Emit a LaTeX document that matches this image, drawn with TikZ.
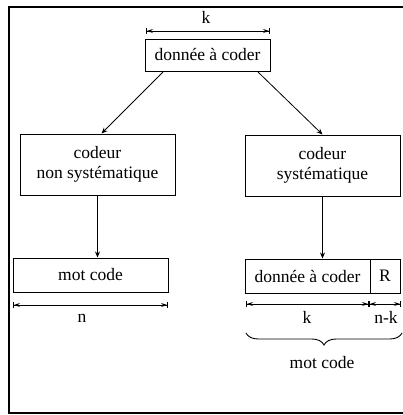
\documentclass[tikz,border=0pt]{standalone}
\usepackage{fontspec}
\setmainfont{Liberation Serif}
\usetikzlibrary{arrows.meta,decorations.pathreplacing}
\begin{document}
\begin{tikzpicture}[x=1pt,y=-1pt,
  box/.style={draw,line width=1pt,rectangle,inner sep=0pt,align=center,font=\fontsize{17.5}{20}\selectfont},
  lbl/.style={font=\fontsize{17.5}{20}\selectfont,inner sep=0pt},
  arr/.style={line width=0.8pt,-{Stealth[length=6pt,width=5pt]}},
  dim/.style={line width=0.9pt,{Bar[width=6pt]Stealth[length=6pt,width=4pt]}-{Stealth[length=6pt,width=4pt]Bar[width=6pt]}}]
\useasboundingbox (0,0) rectangle (403,415);
\draw[line width=1.4pt] (9,7) rectangle (403.5,413);
\node[box,minimum width=125pt,minimum height=32pt] (top) at (207.5,55) {donnée à coder};
\node[box,minimum width=155pt,minimum height=61pt] (lc) at (97.5,164.5) {codeur\\non systématique};
\node[box,minimum width=155pt,minimum height=61pt] (rc) at (322.5,165.5) {codeur\\systématique};
\node[box,minimum width=155pt,minimum height=34pt] (lm) at (90.5,275) {mot code};
\node[box,minimum width=125pt,minimum height=34pt] (rd) at (307.5,276) {donnée à coder};
\node[box,minimum width=30pt,minimum height=34pt] (rr) at (385,276) {R};
% top dimension
\coordinate (tk1) at (146,31);
\coordinate (tk2) at (270,31);
\draw[dim] (tk1) -- (tk2);
\node[lbl] (klbl) at (206,17) {k};
% arrows
\coordinate (ts1) at (163,72);
\coordinate (ts2) at (258,72);
\draw[arr] (ts1) -- ([xshift=4pt]lc.north);
\draw[arr] (ts2) -- (rc.north);
\draw[arr] (lc.south) -- (lc.south |- lm.north);
\draw[arr] (rc.south) -- (rc.south |- rd.north);
% bottom dimensions
\coordinate (n1) at (13,305);
\coordinate (n2) at (168,305);
\draw[dim] (n1) -- (n2);
\node[lbl] (nlbl) at (82,318) {n};
\coordinate (k1) at (246,304);
\coordinate (k2) at (369,304);
\coordinate (k3) at (401,304);
\draw[dim] (k1) -- (k2);
\draw[dim] (k2) -- (k3);
\node[lbl] (k2lbl) at (307,317) {k};
\node[lbl] (nklbl) at (386,317) {n-k};
% brace
\coordinate (b1) at (402,333);
\coordinate (b2) at (246,333);
\draw[line width=0.9pt,decorate,decoration={brace,amplitude=12pt}] (b1) -- (b2);
\node[lbl] (mclbl) at (322,363) {mot code};
\end{tikzpicture}
\end{document}
